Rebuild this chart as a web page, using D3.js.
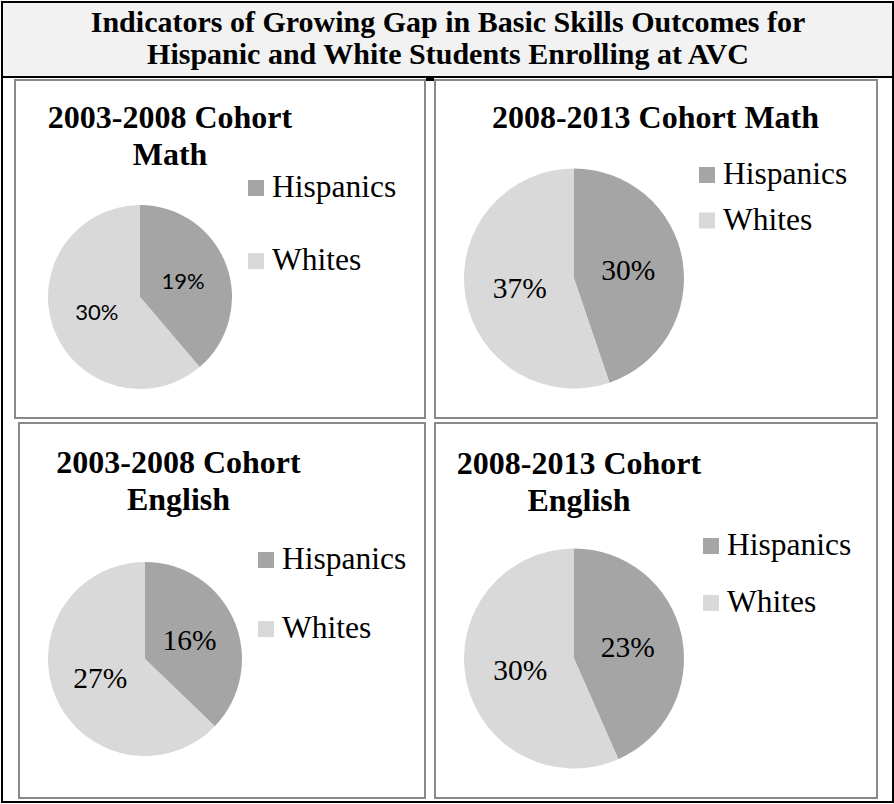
<!DOCTYPE html>
<html>
<head>
<meta charset="utf-8">
<script src="https://cdn.jsdelivr.net/npm/d3@7"></script>
<style>
    html, body { margin: 0; padding: 0; background: #fff; }
    svg { display: block; }
    .main-title { font-family: "Liberation Serif", "Times New Roman", serif; font-weight: bold; font-size: 30px; fill: #000; }
    .panel-title { font-family: "Liberation Serif", "Times New Roman", serif; font-weight: bold; font-size: 32px; fill: #000; }
    .legend-text { font-family: "Liberation Serif", "Times New Roman", serif; font-size: 31.5px; fill: #000; }
    .slice-label { font-family: "Liberation Serif", "Times New Roman", serif; font-size: 29.5px; fill: #000; }
    .slice-label--sans { font-family: "Lato", "Open Sans", sans-serif; font-size: 22px; }
</style>
</head>
<body>
<div id="chart"></div>
<script>
(function () {
    "use strict";

    const width = 894;
    const height = 804;

    // data
    const groups = ["Hispanics", "Whites"];
    const groupColors = ["#a5a5a5", "#d9d9d9"];
    const titleLines = [
        "Indicators of Growing Gap in Basic Skills Outcomes for",
        "Hispanic and White Students Enrolling at AVC"
    ];
    const panelTitles = [
        ["2003-2008 Cohort", "Math"],
        ["2008-2013 Cohort Math"],
        ["2003-2008 Cohort", "English"],
        ["2008-2013 Cohort", "English"]
    ];
    const hispanicValues = [19, 30, 16, 23];
    const whiteValues = [30, 37, 27, 30];

    const panels = [
        { box: [15, 80, 425, 418], cx: 140, cy: 297, r: 92, titleX: 170, titleY: 128, legX: 248, legY: 180, legGap: 73, sans: true },
        { box: [435, 80, 877, 418], cx: 574, cy: 278.5, r: 110, titleX: 655.5, titleY: 128, legX: 699, legY: 167, legGap: 45.5 },
        { box: [19, 423, 425, 798], cx: 145, cy: 659, r: 97, titleX: 178.5, titleY: 473, legX: 258, legY: 552, legGap: 69 },
        { box: [435, 423, 877, 798], cx: 574, cy: 658.5, r: 110, titleX: 579, titleY: 474, legX: 703, legY: 538, legGap: 57 }
    ];

    const svg = d3.select("#chart")
        .append("svg")
        .attr("width", width)
        .attr("height", height);

    // title band
    svg.append("rect")
        .attr("x", 2).attr("y", 2)
        .attr("width", 891).attr("height", 75)
        .attr("fill", "#f2f2f2");

    svg.append("text")
        .attr("class", "main-title")
        .attr("text-anchor", "middle")
        .selectAll("tspan")
        .data(titleLines)
        .join("tspan")
        .attr("x", 448)
        .attr("y", (d, i) => 32 + i * 31.5)
        .text((d) => d);

    svg.append("line")
        .attr("x1", 2).attr("x2", 893)
        .attr("y1", 77).attr("y2", 77)
        .attr("stroke", "#000").attr("stroke-width", 2);

    svg.append("rect")
        .attr("x", 426).attr("y", 78)
        .attr("width", 8).attr("height", 3)
        .attr("fill", "#000");

    // outer frame
    svg.append("rect")
        .attr("x", 2).attr("y", 2)
        .attr("width", 891).attr("height", 800)
        .attr("fill", "none")
        .attr("stroke", "#000").attr("stroke-width", 2);

    const pie = d3.pie().sort(null).value((d) => d.value);

    panels.forEach((p, i) => {
        const g = svg.append("g");
        const [x0, y0, x1, y1] = p.box;

        g.append("rect")
            .attr("x", x0).attr("y", y0)
            .attr("width", x1 - x0).attr("height", y1 - y0)
            .attr("fill", "#fff")
            .attr("stroke", "#898989").attr("stroke-width", 2);

        g.append("text")
            .attr("class", "panel-title")
            .attr("text-anchor", "middle")
            .selectAll("tspan")
            .data(panelTitles[i])
            .join("tspan")
            .attr("x", p.titleX)
            .attr("y", (d, k) => p.titleY + k * 37)
            .text((d) => d);

        const values = groups.map((name, k) => ({
            name: name,
            value: k === 0 ? hispanicValues[i] : whiteValues[i],
            color: groupColors[k]
        }));

        const arc = d3.arc().innerRadius(0).outerRadius(p.r);
        const arcs = pie(values);

        const pieG = g.append("g").attr("transform", `translate(${p.cx},${p.cy})`);

        pieG.selectAll("path")
            .data(arcs)
            .join("path")
            .attr("d", arc)
            .attr("fill", (d) => d.data.color);

        pieG.selectAll("text")
            .data(arcs)
            .join("text")
            .attr("class", p.sans ? "slice-label slice-label--sans" : "slice-label")
            .attr("text-anchor", "middle")
            .attr("x", (d) => arc.centroid(d)[0])
            .attr("y", (d) => arc.centroid(d)[1])
            .attr("dy", "0.34em")
            .text((d) => d.data.value + "%");

        const legend = g.selectAll("g.legend-row")
            .data(values)
            .join("g")
            .attr("class", "legend-row")
            .attr("transform", (d, k) => `translate(${p.legX},${p.legY + k * p.legGap})`);

        legend.append("rect")
            .attr("width", 16).attr("height", 16)
            .attr("fill", (d) => d.color);

        legend.append("text")
            .attr("class", "legend-text")
            .attr("x", 24)
            .attr("y", 17)
            .text((d) => d.name);
    });
}());
</script>
</body>
</html>
